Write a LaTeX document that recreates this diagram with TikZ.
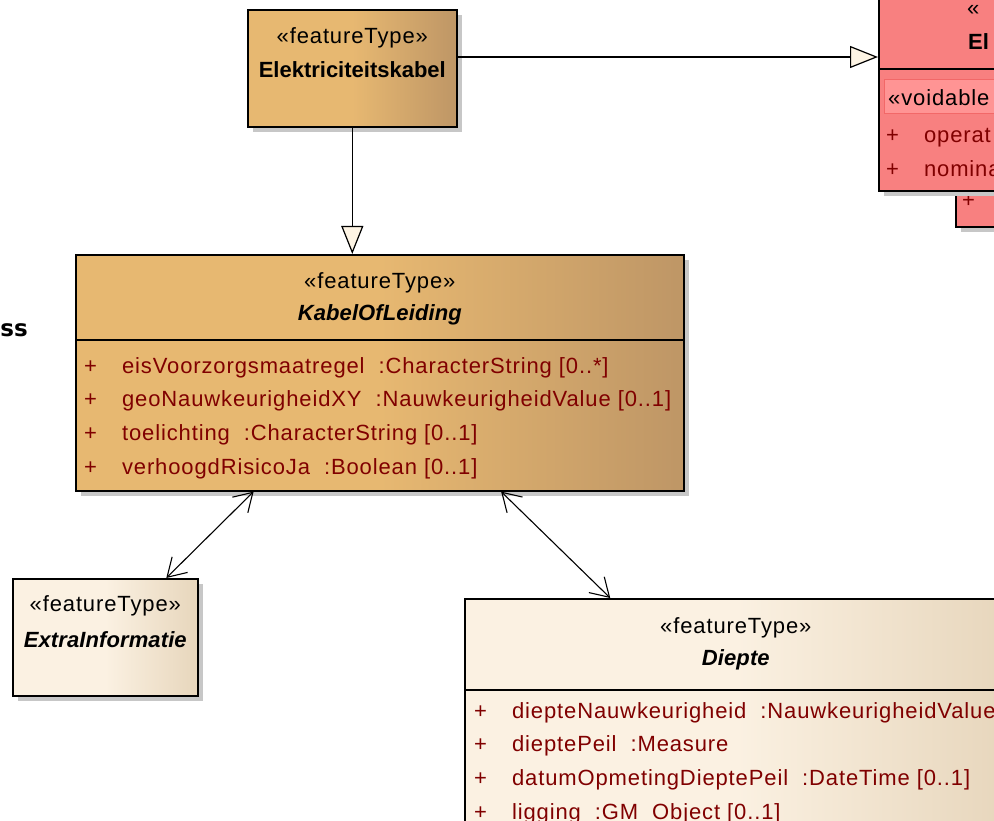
\documentclass[tikz,border=0pt]{standalone}
\usepackage{fontspec}
\setmainfont{Liberation Sans}[LetterSpace=4,BoldFeatures={LetterSpace=0},BoldItalicFeatures={LetterSpace=0.5}]
\newfontfamily\headfont{DejaVu Sans}
\usetikzlibrary{arrows.meta,positioning,calc,shadows}

\definecolor{kabelLight}{RGB}{231,184,113}
\definecolor{kabelDark}{RGB}{190,150,102}
\definecolor{creamLight}{RGB}{251,241,226}
\definecolor{creamDark}{RGB}{231,214,188}
\definecolor{classRed}{RGB}{248,128,128}
\definecolor{voidRed}{RGB}{255,148,148}
\definecolor{voidEdge}{RGB}{242,104,104}
\definecolor{attrRed}{RGB}{128,0,0}
\definecolor{headCream}{RGB}{253,244,228}

\tikzset{
    classbox/.style={draw=black, line width=1.6pt, anchor=north west, inner sep=0pt,
        drop shadow={shadow xshift=5pt, shadow yshift=-5pt, fill=black!22, opacity=1}},
    kabelfill/.style={left color=kabelLight, right color=kabelDark, middle color=kabelLight},
    creamfill/.style={left color=creamLight, right color=creamDark, middle color=creamLight},
    redfill/.style={fill=classRed},
    divider/.style={line width=1.2pt},
    stereo/.style={inner sep=0pt, font=\fontsize{22}{26}\selectfont},
    classname/.style={inner sep=0pt, font=\fontsize{22}{26}\selectfont\bfseries},
    abstractname/.style={inner sep=0pt, font=\fontsize{22}{26}\selectfont\bfseries\itshape},
    attrs/.style={anchor=base west, inner sep=0pt, text=attrRed, font=\fontsize{22}{33.7}\selectfont},
    generalization/.style={-{Triangle[length=28pt,width=22pt,fill=headCream]}, line width=1.2pt},
    association/.style={{Straight Barb[length=18pt,width=22pt]}-{Straight Barb[length=18pt,width=22pt]}, line width=1.1pt},
}

\begin{document}
\begin{tikzpicture}[x=1pt,y=-1pt]
    \path[use as bounding box] (0,0) rectangle (994,821);
    \clip (0,0) rectangle (994,821);

    \node[anchor=base east, inner sep=0pt, font=\headfont\bfseries\fontsize{23}{23}\selectfont] (ssLabel) at (28,337) {ss};

    % red class, top right
    \node[classbox, redfill, minimum width=100pt, minimum height=76pt] (netBack) at (955,150) {};
    \node[attrs, text=attrRed] (netBackAttr) at ($(netBack.north west)+(7,58)$) {+};
    \node[classbox, redfill, minimum width=200pt, minimum height=210pt] (netClass) at (878,-20) {};
    \node[anchor=base west, stereo] (netStereo) at (967,16) {«};
    \node[anchor=base west, classname] (netName) at (968,50) {El};
    \draw[divider] ($(netClass.north west)+(0,89)$) -- ($(netClass.north east)+(0,89)$);
    \node[draw=voidEdge, fill=voidRed, line width=0.8pt, anchor=north west, minimum width=150pt, minimum height=34pt] (voidBand) at (884,79) {};
    \node[anchor=base west, stereo] (voidLabel) at (888,106) {«voidable};
    \node[attrs] (netAttrs) at (886,143) {\begin{tabular}[t]{@{}l@{\hspace{25pt}}l@{}}
        + & operat \\
        + & nomina \\
        \end{tabular}
    };

    \node[classbox, kabelfill, minimum width=209pt, minimum height=117pt] (elekKabel) at (247,9) {};
    \node[stereo] (elekStereo) at ($(elekKabel.north)+(0,29)$) {«featureType»};
    \node[classname] (elekName) at ($(elekKabel.north)+(0,61)$) {Elektriciteitskabel};

    \node[classbox, kabelfill, minimum width=608pt, minimum height=236pt] (kabel) at (75,254) {};
    \node[stereo] (kabelStereo) at ($(kabel.north)+(0,29)$) {«featureType»};
    \node[abstractname] (kabelName) at ($(kabel.north)+(0,61)$) {KabelOfLeiding};
    \draw[divider] ($(kabel.north west)+(0,86)$) -- ($(kabel.north east)+(0,86)$);
    \node[attrs] (kabelAttrs) at ($(kabel.north west)+(9,119)$) {\begin{tabular}[t]{@{}l@{\hspace{25pt}}l@{}}
        + & eisVoorzorgsmaatregel\hspace{14pt}:CharacterString [0..*] \\
        + & geoNauwkeurigheidXY\hspace{14pt}:NauwkeurigheidValue [0..1] \\
        + & toelichting\hspace{14pt}:CharacterString [0..1] \\
        + & verhoogdRisicoJa\hspace{14pt}:Boolean [0..1] \\
        \end{tabular}
    };

    \node[classbox, creamfill, minimum width=185pt, minimum height=117pt] (extraInfo) at (12,578) {};
    \node[stereo] (extraStereo) at ($(extraInfo.north)+(0,28)$) {«featureType»};
    \node[abstractname] (extraName) at ($(extraInfo.north)+(0,62)$) {ExtraInformatie};

    \node[classbox, creamfill, minimum width=542pt, minimum height=300pt] (diepte) at (464,598) {};
    \node[stereo] (diepteStereo) at ($(diepte.north)+(0,30)$) {«featureType»};
    \node[abstractname] (diepteName) at ($(diepte.north)+(0,62)$) {Diepte};
    \draw[divider] ($(diepte.north west)+(0,92)$) -- ($(diepte.north east)+(0,92)$);
    \node[attrs] (diepteAttrs) at ($(diepte.north west)+(10,120)$) {\begin{tabular}[t]{@{}l@{\hspace{25pt}}l@{}}
        + & diepteNauwkeurigheid\hspace{14pt}:NauwkeurigheidValue \\
        + & dieptePeil\hspace{14pt}:Measure \\
        + & datumOpmetingDieptePeil\hspace{14pt}:DateTime [0..1] \\
        + & ligging\hspace{14pt}:GM\_Object [0..1] \\
        \end{tabular}
    };

    % connectors
    \coordinate (elekOut) at ($(elekKabel.north east)+(0,48)$);
    \draw[generalization] (elekOut) -- (elekOut -| netClass.west);
    \draw[generalization] (elekKabel.south) -- (elekKabel.south |- kabel.north);
    \draw[association] ($(kabel.south west)!0.293!(kabel.south east)$) -- ($(extraInfo.north west)!0.827!(extraInfo.north east)$);
    \draw[association] ($(kabel.south west)!0.699!(kabel.south east)$) -- ($(diepte.north west)!0.269!(diepte.north east)$);
\end{tikzpicture}
\end{document}
